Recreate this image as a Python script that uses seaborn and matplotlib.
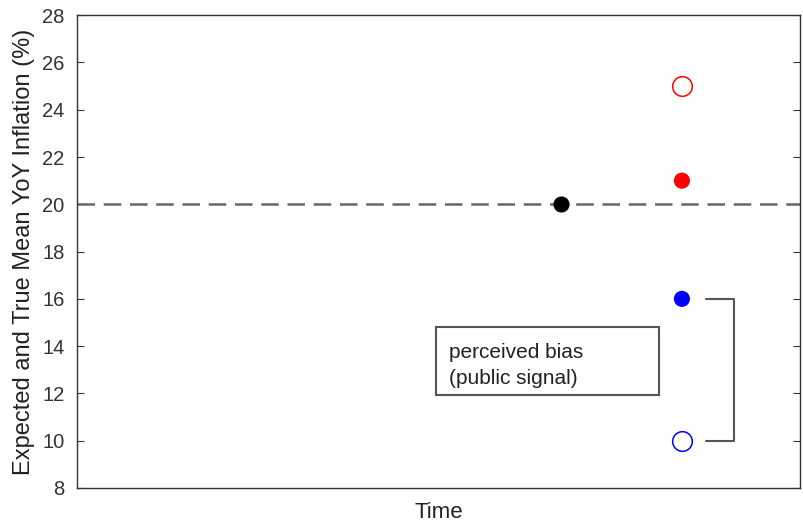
import matplotlib
matplotlib.use("Agg")
import matplotlib.pyplot as plt
from matplotlib.patches import Rectangle
import seaborn as sns
import pandas as pd

# values
true_time = [4]
true_value = [20]
expected_time = [5, 5]
expected_value = [21, 16]
expected_colors = ["#ff0000", "#0000ff"]
naive_time = [5, 5]
naive_value = [25, 10]
naive_colors = ["#ff0000", "#0000ff"]
dashed_level = 20
bias_top = 16
bias_bottom = 10
y_ticks = [8, 10, 12, 14, 16, 18, 20, 22, 24, 26, 28]

sns.set_style("white")
plt.rcParams['font.family'] = ['Liberation Sans', 'DejaVu Sans']

fig, ax = plt.subplots(figsize=(8.04, 5.23), dpi=100)
fig.subplots_adjust(left=0.096, right=0.995, top=0.971, bottom=0.067)

ax.axhline(dashed_level, color="#666666", linestyle=(0, (7, 3.5)), lw=1.8, zorder=1)

true_df = pd.DataFrame({"Time": true_time, "value": true_value})
sns.scatterplot(data=true_df, x="Time", y="value", color="black", s=135,
                edgecolor="black", linewidth=0, ax=ax, zorder=3)

exp_df = pd.DataFrame({"Time": expected_time, "value": expected_value, "c": expected_colors})
sns.scatterplot(data=exp_df, x="Time", y="value", hue="c", palette={c: c for c in expected_colors},
                s=135, linewidth=0, legend=False, ax=ax, zorder=3)

naive_df = pd.DataFrame({"Time": naive_time, "value": naive_value, "c": naive_colors})
for _, row in naive_df.iterrows():
    ax.scatter(row["Time"], row["value"], s=200, facecolors="white",
               edgecolors=row["c"], linewidths=1.1, zorder=3)

# bracket for perceived bias
bx0, bx1 = 5.2, 5.43
ax.plot([bx0, bx1, bx1, bx0], [bias_top, bias_top, bias_bottom, bias_bottom],
        color="#555555", lw=1.5, zorder=2)

# annotation box
ax.add_patch(Rectangle((2.96, 11.93), 1.85, 2.88, facecolor="white",
                       edgecolor="#555555", lw=1.5, zorder=2))
ax.text(3.07, 13.18, "perceived bias\n(public signal)", fontsize=15, ha="left", va="center",
        linespacing=1.5, color="#222222", zorder=3)

ax.set_xlim(-0.02, 5.98)
ax.set_ylim(8, 28)
ax.set_yticks(y_ticks)
ax.set_xticks([])
ax.set_xlabel("Time", fontsize=16, color="#222222", labelpad=10)
ax.set_ylabel("Expected and True Mean YoY Inflation (%)", fontsize=17, color="#222222",
              labelpad=5)
ax.tick_params(axis="y", direction="in", length=5, width=0.8, left=True, right=True,
               labelsize=14.5, labelcolor="#333333", color="#333333", pad=9)
for sp in ax.spines.values():
    sp.set_color("#333333")
    sp.set_linewidth(1.0)

plt.savefig("out.png", dpi=100)
plt.close()
